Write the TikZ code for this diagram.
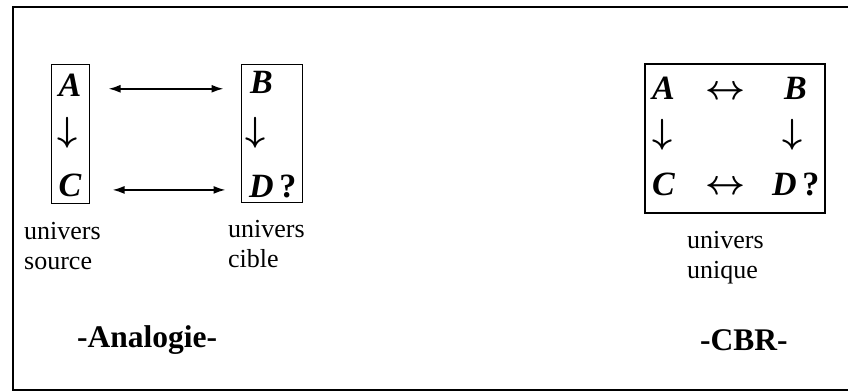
\documentclass[tikz,border=0pt]{standalone}
\usepackage{graphicx}
\usepackage{fontspec}
\setmainfont{Liberation Serif}
\usetikzlibrary{arrows.meta}

\newcommand{\fbas}{\scalebox{1.4}{\boldmath$\downarrow$}}
\newcommand{\fdouble}{\scalebox{1.4}{\boldmath$\leftrightarrow$}}

\begin{document}
\begin{tikzpicture}[x=1pt, y=-1pt,
  letter/.style={font=\fontsize{34}{34}\selectfont\bfseries\itshape, inner sep=0pt, anchor=base},
  sym/.style={font=\fontsize{24.88}{25}\selectfont, inner sep=0pt},
  univ/.style={font=\fontsize{26}{30}\selectfont, inner sep=0pt, align=left, anchor=base west},
  titre/.style={font=\fontsize{31.5}{32}\selectfont\bfseries, inner sep=0pt, anchor=base west},
  boite/.style={draw, line width=1pt, inner sep=0pt},
  fleche/.style={{Latex[length=12pt,width=8pt]}-{Latex[length=12pt,width=8pt]}, line width=1.7pt}]

\useasboundingbox (0,0) rectangle (848,391);
\draw[line width=2pt] (860,7) -- (13,7) -- (13,390) -- (860,390);

% analogie : deux univers
\node[boite, minimum width=38, minimum height=139] (src) at (70,133.5) {};
\node[boite, minimum width=61, minimum height=138] (cib) at (271.5,133) {};

\node[letter] (A) at (70,96) {A};
\node[sym] (ac) at (68,133) {\fbas};
\node[letter] (C) at (70,196) {C};

\node[letter, anchor=base west] (B) at (250,93) {B};
\node[sym] (bd) at (256,133) {\fbas};
\node[letter, anchor=base west] (D) at (249,197) {D\,\upshape ?};

\draw[fleche, shorten <=19pt, shorten >=17pt] ([yshift=-4]A.center -| src.east) -- ([yshift=-4]A.center -| cib.west);
\draw[fleche, shorten <=23pt, shorten >=15pt] ([yshift=-5]C.center -| src.east) -- ([yshift=-5]C.center -| cib.west);

\node[univ] (us) at (24,269) {univers\\source};
\node[univ] (uc) at (228,267) {univers\\cible};
\node[titre] (an) at (77,347) {-Analogie-};

% CBR : un seul univers
\node[boite, line width=1.6pt, minimum width=180, minimum height=149] (uni) at (735,138.5) {};

\node[letter, anchor=base west] (A2) at (652,99) {A};
\node[sym] (ab2) at (726,93) {\fdouble};
\node[letter, anchor=base west] (B2) at (784,99) {B};
\node[sym] (ac2) at (663,135) {\fbas};
\node[sym] (bd2) at (793,135) {\fbas};
\node[letter, anchor=base west] (C2) at (652,195) {C};
\node[sym] (cd2) at (726,188) {\fdouble};
\node[letter, anchor=base west] (D2) at (772,195) {D\,\upshape ?};

\node[univ] (uu) at (687,278) {univers\\unique};
\node[titre] (cbr) at (700,350) {-CBR-};
\end{tikzpicture}
\end{document}
